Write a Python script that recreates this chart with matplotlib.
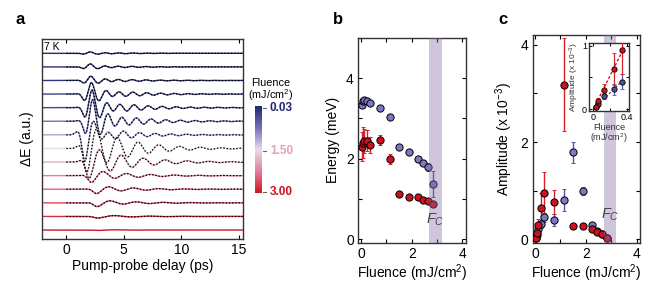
import numpy as np
import matplotlib
matplotlib.use("Agg")
import matplotlib.pyplot as plt
from matplotlib.colors import LinearSegmentedColormap
from matplotlib.lines import Line2D

plt.rcParams['font.family'] = ['Liberation Sans', 'DejaVu Sans']
plt.rcParams['mathtext.fontset'] = 'custom'
plt.rcParams['mathtext.rm'] = 'Liberation Sans'
plt.rcParams['mathtext.it'] = 'Liberation Sans:italic'

# ---------------- data ----------------
fluence = [0.03, 0.06, 0.13, 0.25, 0.34, 0.75, 1.13, 1.51, 1.88, 2.24, 2.43, 2.63, 2.82]
energy_blue = [3.34, 3.42, 3.45, 3.44, 3.39, 3.25, 3.03, 2.29, 2.17, 1.99, 1.89, 1.79, 1.37]
energy_blue_err = [0.05, 0.05, 0.05, 0.05, 0.05, 0.04, 0.04, 0.04, 0.04, 0.04, 0.05, 0.10, 0.33]
energy_red = [2.30, 2.40, 2.44, 2.45, 2.35, 2.46, 2.00, 1.12, 1.06, 1.04, 0.98, 0.95, 0.87]
energy_red_err = [0.36, 0.38, 0.30, 0.25, 0.20, 0.12, 0.12, 0.03, 0.03, 0.03, 0.03, 0.03, 0.03]
amp_blue = [0.03, 0.08, 0.21, 0.32, 0.45, 0.39, 0.81, 1.79, 1.00, 0.30, 0.18, 0.10, 0.03]
amp_blue_err = [0.02, 0.04, 0.10, 0.08, 0.10, 0.12, 0.23, 0.22, 0.08, 0.04, 0.03, 0.03, 0.02]
amp_red = [0.03, 0.13, 0.30, 0.65, 0.96, 0.77, 3.18, 0.27, 0.27, 0.22, 0.15, 0.10, 0.03]
amp_red_err = [0.02, 0.05, 0.12, 0.30, 0.42, 0.25, 0.95, 0.02, 0.02, 0.02, 0.02, 0.02, 0.02]

inset_fluence = [0.03, 0.06, 0.13, 0.25, 0.34]
inset_red = [0.03, 0.13, 0.30, 0.63, 0.94]
inset_red_err = [0.02, 0.05, 0.10, 0.25, 0.38]
inset_blue = [0.03, 0.08, 0.21, 0.31, 0.43]
inset_blue_err = [0.02, 0.03, 0.05, 0.08, 0.12]

# panel a: traces
trace_fluence = [0.03, 0.06, 0.13, 0.25, 0.34, 0.75, 1.13, 1.51, 1.88, 2.24, 2.43, 2.63, 2.82, 3.00]
trace_scale = [0.10, 0.22, 0.32, 0.85, 1.30, 1.60, 1.95, 1.75, 1.20, 0.50, 0.32, 0.28, 0.12, 0.03]
trace_tpeak = [2.1, 2.1, 2.15, 2.2, 2.25, 2.3, 1.6, 1.75, 1.95, 2.15, 2.6, 2.65, 2.7, 2.7]
trace_phase = [0, 0, 0, 0, 0, 0, 1, 1, 1, 1, 1, 1, 1, 1]   # 0: peak first, 1: dip first
tau_blue = 3.2
tau_red = 1.0

fc_band = (2.7, 3.2)
cbar_ticks = ["0.03", "1.50", "3.00"]

# ---------------- styling ----------------
navy = "#23286e"
cmap = LinearSegmentedColormap.from_list(
    "flu", [(0.0, navy), (0.25, "#7070bb"), (0.5, "#e8dde8"), (0.75, "#e0809a"), (1.0, "#d01428")])
blue_c = "#7b78c6"
blue_e = "#5752b0"
red_c = "#d0101e"
red_e = "#d8202c"
band_c = (0.52, 0.42, 0.64)

fig = plt.figure(figsize=(6.64, 2.94), dpi=100)
W, H = 664.0, 294.0

def ax_px(l, t, r, b):
    return [l / W, 1 - b / H, (r - l) / W, (b - t) / H]

# ---------------- panel a ----------------
axa = fig.add_axes(ax_px(42, 39.3, 242.7, 239))
t = np.linspace(-2.2, 15.4, 1500)
fl_max = 3.0
for k, F in enumerate(trace_fluence):
    idx = min(k, len(fluence) - 1)
    fb = energy_blue[idx] / 4.1357
    fr = energy_red[idx] / 4.1357
    wb = amp_blue[idx] / (amp_blue[idx] + amp_red[idx])
    wr = 1 - wb
    tp = trace_tpeak[k]
    ph = np.pi * trace_phase[k]
    rc = -0.75 + 0.4 * trace_phase[k]

    def model(tt, tb, trr):
        dt = tt - tp
        rise = 1.0 / (1.0 + np.exp(-(dt - rc) / 0.2))
        dpos = np.clip(dt, 0, None)
        sb = wb * np.exp(-dpos / tb) * np.cos(2 * np.pi * fb * dt + ph)
        sr = wr * np.exp(-dpos / trr) * np.cos(2 * np.pi * fr * dt + ph)
        return rise * (sb + 0.6 * sr)

    base = model(t, tau_blue, tau_red)
    norm = np.max(np.abs(base))
    meas = trace_scale[k] * model(t, tau_blue * 1.1, tau_red * 0.9) / norm
    fit = trace_scale[k] * base / norm
    off = -k
    col = cmap(F / fl_max)
    axa.plot(t, meas + off, color=col, lw=1.0, zorder=2)
    if k < len(fluence):
        m = t >= 0
        axa.plot(t[m], fit[m] + off, color="black", lw=0.9, ls=(0, (1.2, 1.4)), zorder=3)

axa.set_xlim(-2.11, 15.35)
axa.set_ylim(-13.66, 1.03)
axa.set_xticks([0, 5, 10, 15])
axa.set_yticks([])
axa.tick_params(axis='x', direction='in', top=True, length=3, width=0.8, labelsize=10, pad=3)
axa.set_xlabel("Pump-probe delay (ps)", fontsize=10, labelpad=1)
axa.set_ylabel("ΔE (a.u.)", fontsize=10, labelpad=6)
axa.text(0.012, 0.985, "7 K", transform=axa.transAxes, fontsize=7.5, va='top', ha='left')
for s in axa.spines.values():
    s.set_linewidth(1.0)
    s.set_color("#333333")

# colorbar
axcb = fig.add_axes(ax_px(255, 106, 262, 193))
grad = np.linspace(0, 1, 256).reshape(-1, 1)
axcb.imshow(grad, aspect='auto', cmap=cmap, extent=[0, 1, 1, 0])
axcb.set_xticks([])
axcb.set_yticks([])
for s in axcb.spines.values():
    s.set_visible(False)
cb_cols = [navy, "#e0a3b8", red_c]
cb_y = [108, 151, 192]
for lab, c, yy in zip(cbar_ticks, cb_cols, cb_y):
    fig.add_artist(Line2D([263 / W, 266 / W], [1 - yy / H, 1 - yy / H], color="#666666", lw=0.8))
    fig.text(270 / W, 1 - yy / H, lab, fontsize=8.5, color=c, fontweight='bold', va='center', ha='left')
fig.text(271 / W, 1 - 83 / H, "Fluence", fontsize=7.8, ha='center', va='center')
fig.text(271 / W, 1 - 95.5 / H, "(mJ/cm$^2$)", fontsize=7.8, ha='center', va='center')

# ---------------- panel b ----------------
def style_xy(ax):
    ax.tick_params(which='both', direction='in', top=True, right=True, length=3, width=0.8,
                   labelsize=10, pad=3)
    for s in ax.spines.values():
        s.set_linewidth(1.0)
        s.set_color("#333333")

axb = fig.add_axes(ax_px(358, 37.7, 465.7, 243))
axb.errorbar(fluence, energy_blue, yerr=energy_blue_err, fmt='o', ms=5.2, mfc=blue_c, mec='black',
             mew=0.7, ecolor=blue_e, elinewidth=1.0, capsize=1.5, zorder=3)
axb.errorbar(fluence, energy_red, yerr=energy_red_err, fmt='o', ms=5.2, mfc=red_c, mec='black',
             mew=0.7, ecolor=red_e, elinewidth=1.0, capsize=1.5, zorder=3)
axb.axvspan(*fc_band, color=band_c, alpha=0.38, lw=0, zorder=4)
axb.text(2.93, 0.48, "$F_C$", fontsize=10.5, color="#444444", ha='center', va='center', zorder=5)
axb.set_xlim(-0.12, 4.13)
axb.set_ylim(-0.09, 5.0)
axb.set_xticks([0, 2, 4])
axb.set_xticks([1, 3], minor=True)
axb.set_yticks([0, 2, 4])
axb.set_yticks([1, 3, 5], minor=True)
style_xy(axb)
axb.set_xlabel("Fluence (mJ/cm$^2$)", fontsize=10, labelpad=1)
axb.set_ylabel("Energy (meV)", fontsize=10, labelpad=4)

# ---------------- panel c ----------------
axc = fig.add_axes(ax_px(532.7, 35, 640, 243))
axc.errorbar(fluence, amp_blue, yerr=amp_blue_err, fmt='o', ms=5.2, mfc=blue_c, mec='black',
             mew=0.7, ecolor=blue_e, elinewidth=1.0, capsize=1.5, zorder=3)
axc.errorbar(fluence, amp_red, yerr=amp_red_err, fmt='o', ms=5.2, mfc=red_c, mec='black',
             mew=0.7, ecolor=red_e, elinewidth=1.0, capsize=1.5, zorder=3)
axc.axvspan(*fc_band, color=band_c, alpha=0.38, lw=0, zorder=4)
axc.text(2.95, 0.5, "$F_C$", fontsize=10.5, color="#444444", ha='center', va='center', zorder=5)
axc.set_xlim(-0.09, 4.13)
axc.set_ylim(-0.076, 4.2)
axc.set_xticks([0, 2, 4])
axc.set_xticks([1, 3], minor=True)
axc.set_yticks([0, 2, 4])
axc.set_yticks([1, 3], minor=True)
style_xy(axc)
axc.set_xlabel("Fluence (mJ/cm$^2$)", fontsize=10, labelpad=1)
axc.set_ylabel("Amplitude (x 10$^{-3}$)", fontsize=10, labelpad=4)

# inset
axi = fig.add_axes(ax_px(589, 42.7, 628.7, 111))
xf = np.array(inset_fluence)
sr = np.sum(xf * np.array(inset_red)) / np.sum(xf * xf)
sb = np.sum(xf * np.array(inset_blue)) / np.sum(xf * xf)
xl = np.array([0.0, 0.37])
axi.plot(xl, sr * xl, color=red_c, lw=1.0, ls=(0, (2, 1.5)), zorder=2)
axi.plot(xl, sb * xl, color="#555555", lw=0.9, ls=(0, (2, 1.5)), zorder=2)
axi.errorbar(inset_fluence, inset_blue, yerr=inset_blue_err, fmt='o', ms=3.8, mfc="#50508e", mec='black',
             mew=0.6, ecolor=blue_e, elinewidth=0.9, capsize=1.2, zorder=3)
axi.errorbar(inset_fluence, inset_red, yerr=inset_red_err, fmt='o', ms=3.8, mfc=red_c, mec='black',
             mew=0.6, ecolor=red_e, elinewidth=0.9, capsize=1.2, zorder=3)
axi.set_xlim(-0.052, 0.425)
axi.set_ylim(-0.03, 1.05)
axi.set_xticks([0, 0.4])
axi.set_xticklabels(["0", "0.4"])
axi.set_xticks([0.2], minor=True)
axi.set_yticks([0, 1])
axi.set_yticks([0.5], minor=True)
axi.tick_params(which='both', direction='in', top=True, right=True, length=2, width=0.7,
                labelsize=6.5, pad=1.5)
for s in axi.spines.values():
    s.set_linewidth(1.0)
    s.set_color("#333333")
axi.set_xlabel("Fluence\n(mJ/cm$^2$)", fontsize=6.5, labelpad=0.5, linespacing=0.95, color="#333333")
axi.set_ylabel("Amplitude (x 10$^{-3}$)", fontsize=6, labelpad=1, color="#333333")

# panel labels
fig.text(20 / W, 1 - 20 / H, "a", fontsize=12, fontweight='bold', ha='center', va='center')
fig.text(338 / W, 1 - 20 / H, "b", fontsize=12, fontweight='bold', ha='center', va='center')
fig.text(503 / W, 1 - 20 / H, "c", fontsize=12, fontweight='bold', ha='center', va='center')

fig.savefig("out.png", dpi=100)
